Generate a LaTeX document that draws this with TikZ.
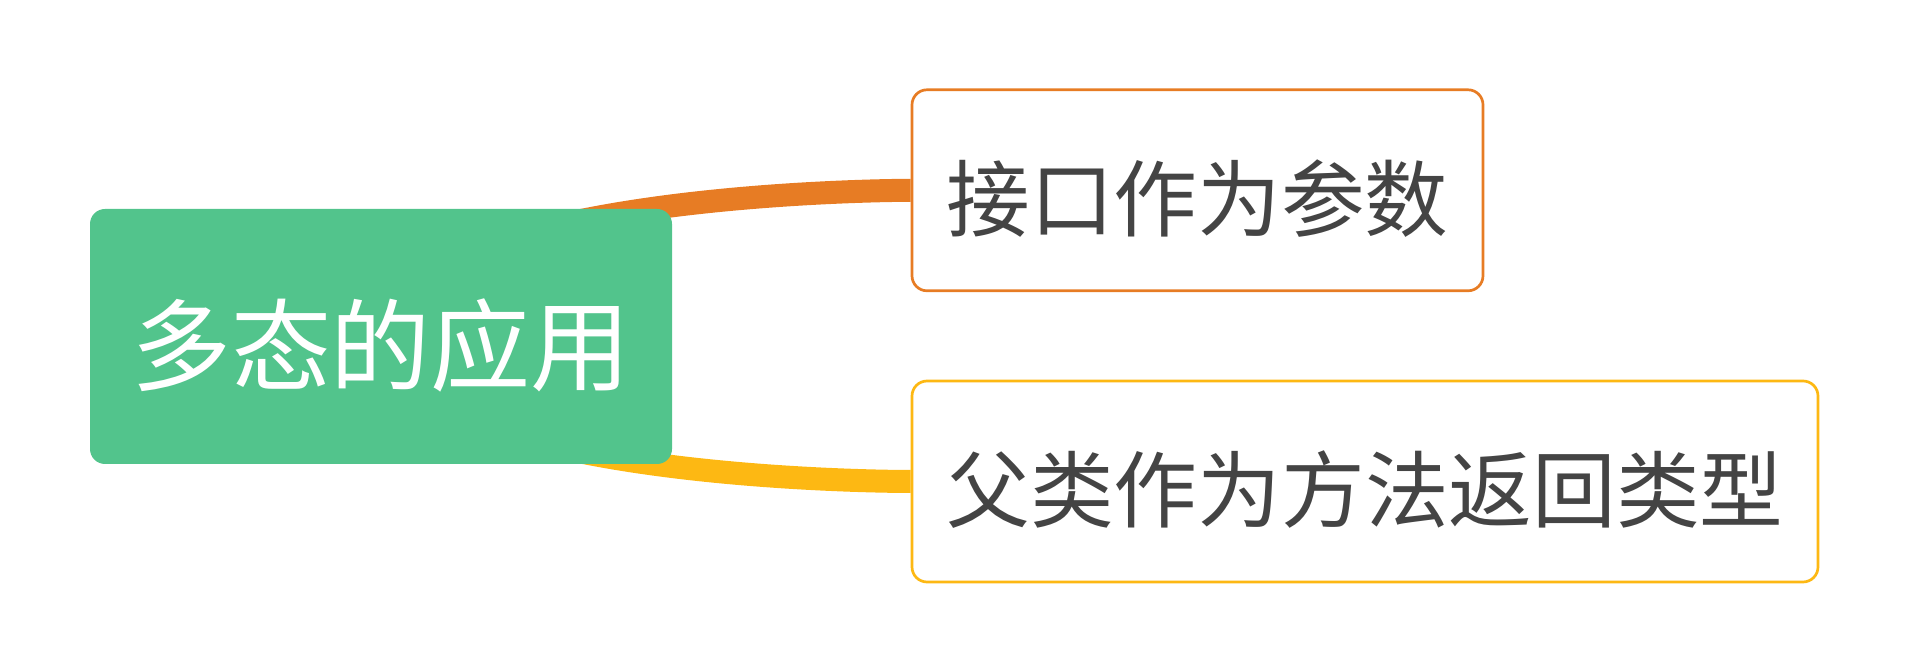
\documentclass[tikz,border=0pt]{standalone}
\usepackage{fontspec}
\usepackage{tikz}
\usetikzlibrary{backgrounds}
\newfontfamily\cjk{Noto Sans CJK SC}
\definecolor{rootgreen}{HTML}{52C48C}
\definecolor{branchorange}{HTML}{E77C24}
\definecolor{branchyellow}{HTML}{FDB813}
\definecolor{textgray}{HTML}{444444}
\tikzset{
  rootbox/.style={fill=rootgreen, rounded corners=7.5pt, text=white,
    minimum width=291pt, minimum height=127.5pt, inner sep=0pt,
    text height=50pt, text depth=3pt,
    font=\cjk\fontsize{50pt}{60pt}\selectfont},
  leafbox/.style={draw=#1, fill=white, line width=1.35pt, rounded corners=7.5pt,
    text=textgray, minimum height=100.5pt, inner sep=0pt,
    text height=42pt, text depth=1.8pt,
    font=\cjk\fontsize{41.85pt}{50pt}\selectfont},
  branch/.style={draw=#1, line width=11.5pt}
}
\begin{document}
\begin{tikzpicture}[x=0.5pt, y=-0.5pt]
    \useasboundingbox (0,0) rectangle (1908,672);
    \node[rootbox] (root) at (381,336.5) {多态的应用};
    \node[leafbox=branchorange, minimum width=285.5pt] (param) at (1197.5,190.3) {接口作为参数};
    \node[leafbox=branchyellow, minimum width=453pt] (ret) at (1365,481.5) {父类作为方法返回类型};
    \begin{scope}[on background layer]
      \draw[branch=branchorange] (root.center) .. controls +(19,-145) and +(-12,0) .. (param.west);
      \draw[branch=branchyellow] (root.center) .. controls +(19,145) and +(-12,0) .. (ret.west);
    \end{scope}
  \end{tikzpicture}
\end{document}
